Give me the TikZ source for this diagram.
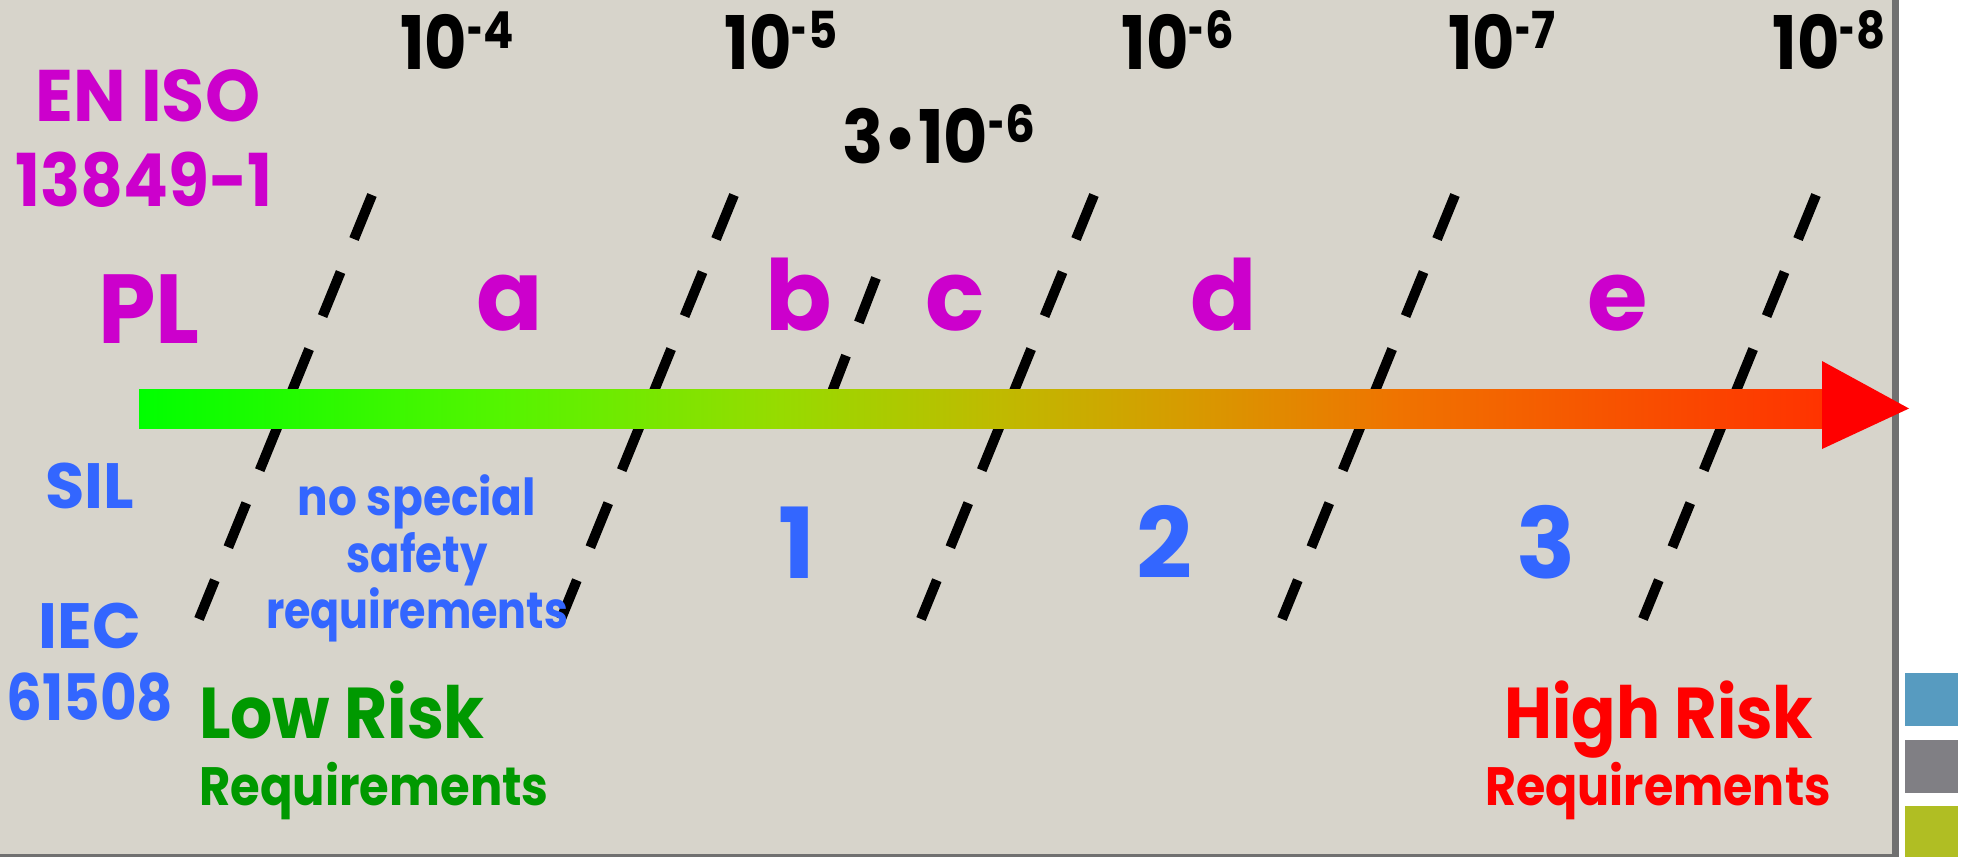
\documentclass[tikz,border=0pt]{standalone}
\usepackage{fontspec}
\usepackage{graphicx}
\setmainfont{Poppins}
\definecolor{panel}{RGB}{215,212,203}
\definecolor{edge}{RGB}{112,112,112}
\definecolor{plmag}{RGB}{204,0,204}
\definecolor{silblue}{RGB}{51,102,255}
\definecolor{lowgreen}{RGB}{0,153,0}
\definecolor{highred}{RGB}{255,0,0}
\definecolor{sqblue}{RGB}{87,155,192}
\definecolor{sqgray}{RGB}{128,127,132}
\definecolor{sqolive}{RGB}{176,190,35}
\pgfdeclarehorizontalshading{riskgrad}{100bp}{rgb(0bp)=(0,1,0); rgb(25bp)=(0,1,0); rgb(35.75bp)=(0.33,0.96,0); rgb(44bp)=(0.59,0.86,0); rgb(50.5bp)=(0.75,0.73,0); rgb(56bp)=(0.84,0.61,0); rgb(62.5bp)=(0.94,0.45,0); rgb(75bp)=(1,0.2,0); rgb(100bp)=(1,0.2,0)}
\newcommand\hs[2]{\scalebox{#1}[1]{#2}}
\newcommand\myexp[1]{\raisebox{21pt}{\fontsize{51}{51}\selectfont\hs{0.6}{-}\kern1pt#1}}
\tikzset{
  divider/.style={line width=10pt, dash pattern=on 47.6pt off 35.6pt},
  lbl/.style={inner sep=0pt, anchor=base, font=\bfseries},
  toplab/.style={lbl, text=black, font=\bfseries\fontsize{74}{80}\selectfont},
  normtxt/.style={lbl, text=plmag, font=\bfseries\fontsize{73}{80}\selectfont},
  pltxt/.style={lbl, text=plmag, font=\bfseries\fontsize{98}{100}\selectfont},
  sillbl/.style={lbl, text=silblue, font=\bfseries\fontsize{64}{70}\selectfont},
  silnum/.style={lbl, text=silblue, font=\bfseries\fontsize{98}{100}\selectfont},
  nospec/.style={lbl, text=silblue, font=\bfseries\fontsize{51}{57}\selectfont},
  risk/.style={lbl, font=\bfseries\fontsize{72}{80}\selectfont},
  req/.style={lbl, font=\bfseries\fontsize{54}{60}\selectfont},
}
\begin{document}
\begin{tikzpicture}[x=1pt,y=-1pt]
\useasboundingbox (0,0) rectangle (1963,857);
\fill[white] (0,0) rectangle (1963,857);
\fill[panel] (0,0) rectangle (1892,854);
\fill[edge] (1892,0) rectangle (1899,857);
\fill[edge] (0,854) rectangle (1899,857);
\fill[sqblue] (1905,673) rectangle (1958,726);
\fill[sqgray] (1905,740) rectangle (1958,793);
\fill[sqolive] (1905,806) rectangle (1958,857);
% divider coordinates
\coordinate (t1) at (372,195);  \coordinate (b1) at (199,619);
\coordinate (t2) at (734,195);  \coordinate (b2) at (561,619);
\coordinate (t3) at (1094,195); \coordinate (b3) at (921,619);
\coordinate (t4) at (1455,195); \coordinate (b4) at (1282,619);
\coordinate (t5) at (1816,195); \coordinate (b5) at (1643,619);
\coordinate (tbc) at (876,278); \coordinate (bbc) at (832,392);
\foreach \i in {1,...,5} {\draw[divider] (t\i) -- (b\i);}
\draw[divider] (tbc) -- (bbc);
% arrow
\coordinate (shaftA) at (139,389);
\coordinate (shaftB) at (1822,428);
\coordinate (headT) at (1822,361);
\coordinate (headB) at (1822,449);
\coordinate (tip) at (1909,408.5);
\shade[shading=riskgrad] (shaftA) rectangle (shaftB);
\fill[highred] (headT) -- (tip) -- (headB) -- cycle;
% top labels
\node[toplab] (p4) at (457,69) {\hs{0.88}{10\myexp{4}}};
\node[toplab] (p5) at (781,69) {\hs{0.88}{10\myexp{5}}};
\node[toplab] (p6) at (1178,69) {\hs{0.88}{10\myexp{6}}};
\node[toplab] (p7) at (1502,69) {\hs{0.88}{10\myexp{7}}};
\node[toplab] (p8) at (1829,69) {\hs{0.88}{10\myexp{8}}};
\node[toplab] (p36) at (939,163) {\hs{0.92}{3•10\myexp{6}}};
% left labels
\node[normtxt] (en) at (148,121) {\hs{0.96}{EN ISO}};
\node[normtxt] (num) at (144,206) {\hs{0.91}{13849-1}};
\node[pltxt] (pl) at (149,343) {\hs{0.94}{PL}};
\node[pltxt] (la) at (510,330) {a};
\node[pltxt] (lb) at (799,330) {b};
\node[pltxt] (lc) at (955,330) {c};
\node[pltxt] (ld) at (1224,330) {d};
\node[pltxt] (le) at (1618,330) {e};
\node[sillbl] (sil) at (90,508) {SIL};
\node[sillbl] (iec) at (90,648) {IEC};
\node[sillbl] (iecn) at (90,720) {\hs{0.88}{61508}};
\node[nospec] (ns1) at (417,515) {\hs{0.89}{no special}};
\node[nospec] (ns2) at (417,572) {\hs{0.85}{safety}};
\node[nospec] (ns3) at (417,628) {\hs{0.84}{requirements}};
\node[silnum] (s1) at (797,578) {1};
\node[silnum] (s2) at (1164,578) {2};
\node[silnum] (s3) at (1546,578) {3};
\node[risk, text=lowgreen] (low) at (342,738) {\hs{0.92}{Low Risk}};
\node[req, text=lowgreen] (lowreq) at (374,805) {\hs{0.89}{Requirements}};
\node[risk, text=highred] (high) at (1659,738) {\hs{0.91}{High Risk}};
\node[req, text=highred] (highreq) at (1658,805) {\hs{0.88}{Requirements}};
\end{tikzpicture}
\end{document}
